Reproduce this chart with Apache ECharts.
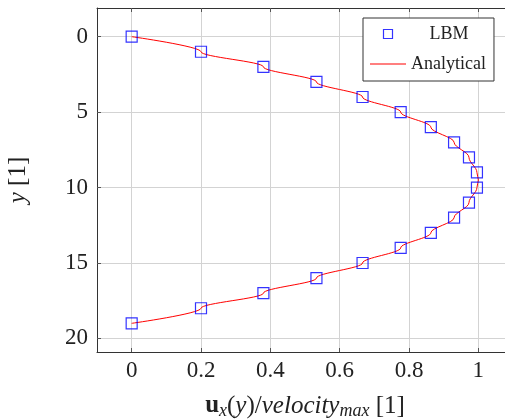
<!DOCTYPE html>
<html><head><meta charset="utf-8">
<script src="https://cdn.jsdelivr.net/npm/echarts@6/dist/echarts.min.js"></script>
<style>html,body{margin:0;padding:0;background:#fff}#c{width:505px;height:420px}</style>
</head><body><div id="c"></div>
<script>
const yPositions = [0,1,2,3,4,5,6,7,8,9,10,11,12,13,14,15,16,17,18,19];
const lbmVelocity = [0,0.2,0.38,0.533,0.666,0.776,0.863,0.93,0.973,0.996,0.996,0.973,0.93,0.863,0.776,0.666,0.533,0.38,0.2,0];
const analyticalY = [0,1,2,3,4,5,6,7,8,9,9.5,10,11,12,13,14,15,16,17,18,19];
const analyticalVelocity = [0,0.2,0.38,0.533,0.666,0.776,0.863,0.93,0.973,0.996,1.0,0.996,0.973,0.93,0.863,0.776,0.666,0.533,0.38,0.2,0];
const xTicks = [0,0.2,0.4,0.6,0.8,1];
const yTicks = [0,5,10,15,20];
const seriesNames = ['LBM','Analytical'];

const FONT = 'Liberation Serif';
const chart = echarts.init(document.getElementById('c'), null, {renderer:'canvas'});
const axisLineStyle = {color:'#333', width:1};
const tickStyle = {show:true, inside:true, length:4, lineStyle:{color:'#555', width:1}};
chart.setOption({
  animation:false,
  backgroundColor:'#fff',
  grid:{left:97, top:8, width:416, height:344, containLabel:false, outerBoundsMode:'none'},
  legend:{
    orient:'vertical', left:363, top:18,
    padding:[7,8,8,7],
    borderColor:'#333', borderWidth:1, backgroundColor:'#fff',
    itemWidth:36, itemHeight:9, itemGap:12, symbolKeepAspect:true,
    textStyle:{fontFamily:FONT, fontSize:18, color:'#222',
      rich:{ctr:{width:76, align:'center', fontFamily:FONT, fontSize:18, color:'#222'}}},
    formatter: n => n === 'LBM' ? '{ctr|LBM}' : n,
    data:[
      {name:seriesNames[0], icon:'path://M0,0 H9 V9 H0 Z', itemStyle:{color:'rgba(0,0,0,0)', borderColor:'#0000ff', borderWidth:1.2}},
      {name:seriesNames[1], icon:'path://M0,0 H36 V1 H0 Z', itemStyle:{color:'#ff0000', borderWidth:0}}
    ]
  },
  xAxis:[{
    type:'value', position:'bottom', min:-0.1, max:1.1,
    axisLine:{show:true, onZero:false, lineStyle:axisLineStyle},
    axisTick:Object.assign({customValues:xTicks}, tickStyle),
    axisLabel:{customValues:xTicks, fontFamily:FONT, fontSize:23, color:'#222', margin:7},
    splitLine:{show:true, lineStyle:{color:'#d3d3d3', width:1}},
    name:'{b|u}{s|x}{n|(}{i|y}{n|)/}{i|velocity}{s|max}{n| [1]}',
    nameLocation:'middle', nameGap:40,
    nameTextStyle:{rich:{
      b:{fontFamily:FONT, fontWeight:'bold', fontSize:25, color:'#222', verticalAlign:'middle', lineHeight:28},
      n:{fontFamily:FONT, fontSize:25, color:'#222', verticalAlign:'middle', lineHeight:28},
      i:{fontFamily:FONT, fontStyle:'italic', fontSize:25, color:'#222', verticalAlign:'middle', lineHeight:28},
      s:{fontFamily:FONT, fontStyle:'italic', fontSize:18, color:'#222', verticalAlign:'bottom', lineHeight:17}
    }}
  },{
    type:'value', position:'top', min:-0.1, max:1.1,
    axisLine:{show:true, onZero:false, lineStyle:axisLineStyle},
    axisTick:Object.assign({customValues:xTicks}, tickStyle),
    axisLabel:{show:false}, splitLine:{show:false}
  }],
  yAxis:[{
    type:'value', position:'left', inverse:true, min:-1.9, max:20.9,
    axisLine:{show:true, onZero:false, lineStyle:axisLineStyle},
    axisTick:Object.assign({customValues:yTicks}, tickStyle),
    axisLabel:{customValues:yTicks, fontFamily:FONT, fontSize:23, color:'#222', margin:9},
    splitLine:{show:true, lineStyle:{color:'#d3d3d3', width:1}},
    name:'{i|y} [1]', nameLocation:'middle', nameGap:66, nameRotate:90,
    nameTextStyle:{fontFamily:FONT, fontSize:25, color:'#222',
      rich:{i:{fontFamily:FONT, fontStyle:'italic', fontSize:25, color:'#222'}}}
  },{
    type:'value', position:'right', inverse:true, min:-1.9, max:20.9,
    axisLine:{show:true, onZero:false, lineStyle:axisLineStyle},
    axisTick:Object.assign({customValues:yTicks}, tickStyle),
    axisLabel:{show:false}, splitLine:{show:false}
  }],
  series:[{
    name:seriesNames[1], type:'line', xAxisIndex:0, yAxisIndex:0,
    data:analyticalY.map((y,i)=>[analyticalVelocity[i], y]),
    smooth:0.35, smoothMonotone:'y',
    symbol:'none', lineStyle:{color:'#ff0000', width:1}, itemStyle:{color:'#ff0000'}, z:2
  },{
    name:seriesNames[0], type:'scatter', xAxisIndex:0, yAxisIndex:0,
    data:yPositions.map((y,i)=>[lbmVelocity[i], y]),
    symbol:'rect', symbolSize:11,
    itemStyle:{color:'rgba(0,0,0,0)', borderColor:'#0000ff', borderWidth:1.2}, z:3
  }]
});
</script></body></html>
